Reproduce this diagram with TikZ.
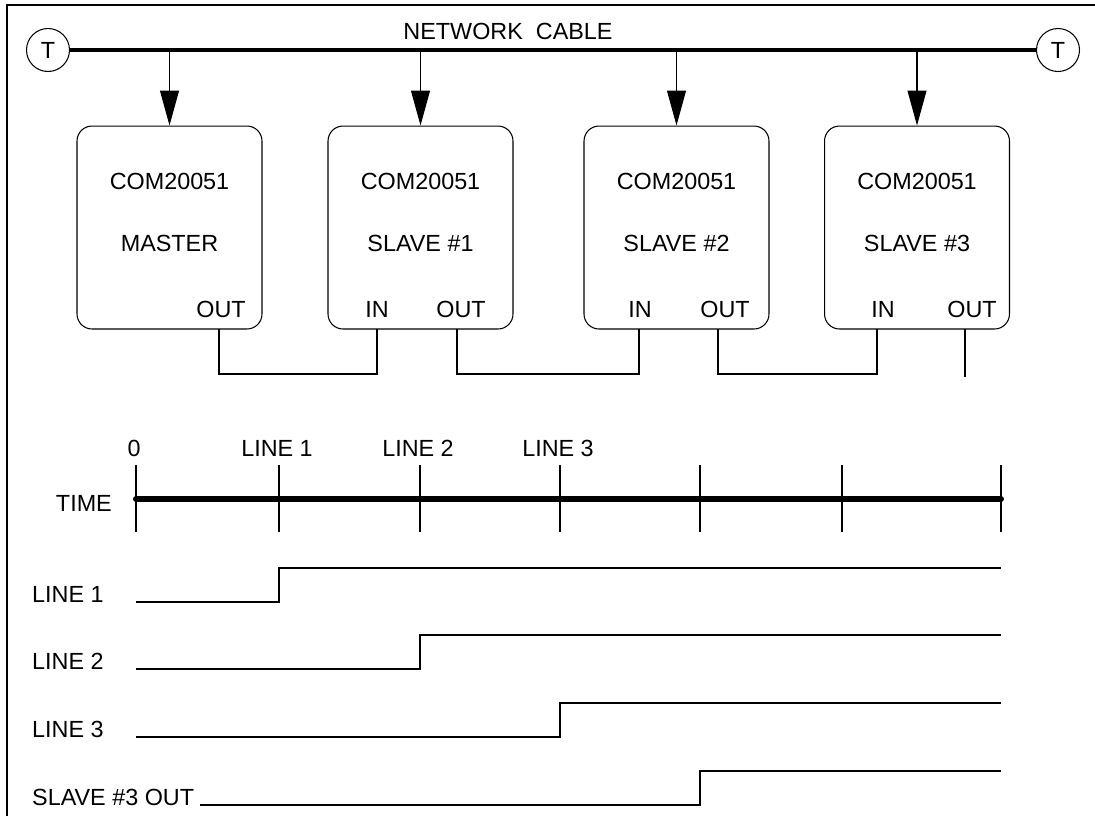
\documentclass[tikz,border=0pt]{standalone}
\usepackage{fontspec}
\setmainfont{Liberation Sans}
\usetikzlibrary{arrows.meta}

\begin{document}
\begin{tikzpicture}[x=0.02cm, y=-0.02cm,
    font=\fontsize{13.3}{15}\selectfont,
    hair/.style={line width=0.6pt},
    term/.style={circle, draw, hair, minimum size=0.86cm, inner sep=0pt},
    chip/.style={draw, hair, rounded corners=0.3cm, minimum width=3.7cm, minimum height=4.06cm},
    feed/.style={hair, -{Triangle[width=0.38cm,length=0.7cm]}}]
    \useasboundingbox (0,0) rectangle (1095,816);
    % Frame
    \draw[line width=1.2pt] (7,816) -- (7,5) -- (1095,5);
    % Network cable
    \node[term] (Tl) at (48,50) {T};
    \node[term] (Tr) at (1058,50) {T};
    \draw[line width=2.3pt] (Tl) -- (Tr);
    \node (Cable) at (508,31) {NETWORK\ \ CABLE};
    % Chips
    \foreach \i/\x/\name in {1/169.5/MASTER,2/420.5/{SLAVE \#1},3/676.5/{SLAVE \#2},4/917/{SLAVE \#3}} {
        \node[chip] (Chip-\i) at (\x,227.5) {};
        \node (Part-\i) at (\x,181) {COM20051};
        \node (Role-\i) at (\x,243) {\name};
        \draw[feed] (Tl -| Chip-\i.north) -- (Chip-\i.north);
    }
    % Ports
    \foreach \i/\x/\p in {1/221/219,2/461/457,3/725/718,4/972/965} {
        \node (Out-\i) at (\x,309) {OUT};
        \coordinate (OutPin-\i) at (\p,329);
    }
    \foreach \i/\x/\p in {2/377/377,3/640/639,4/883/877} {
        \node (In-\i) at (\x,309) {IN};
        \coordinate (InPin-\i) at (\p,329);
    }
    \foreach \i/\j in {1/2,2/3,3/4} {
        \draw[hair] (OutPin-\i) -- ++(0,45) -| (InPin-\j);
    }
    \coordinate (Open) at (965,377);
    \draw[hair] (OutPin-4) -- (Open);
    % Time axis
    \node[anchor=east] (Time) at (118,503) {TIME};
    \foreach \i/\x/\lab in {0/136/0,1/279/LINE 1,2/420/LINE 2,3/560/LINE 3,4/700/,5/842/,6/1001/} {
        \coordinate (Tick-\i) at (\x,499);
        \draw[hair] (\x,465) -- (\x,532);
        \ifnum \i<4
            \node (Mark-\i) at (\x-2,448) {\lab};
        \fi
    }
    \draw[line width=3.4pt, line cap=round] (Tick-0) -- (Tick-6);
    % Signals
    \foreach \i/\lo/\x/\s/\name in {1/602/279/136/LINE 1,2/669/420/136/LINE 2,3/737/560/136/LINE 3,4/805/700/200/{SLAVE \#3 OUT}} {
        \node[anchor=base west] (Sig-\i) at (26,\lo) {\name};
        \draw[hair] (\s,\lo) -- (\x,\lo) -- (\x,\lo-34) -- (1001,\lo-34);
    }
\end{tikzpicture}
\end{document}
